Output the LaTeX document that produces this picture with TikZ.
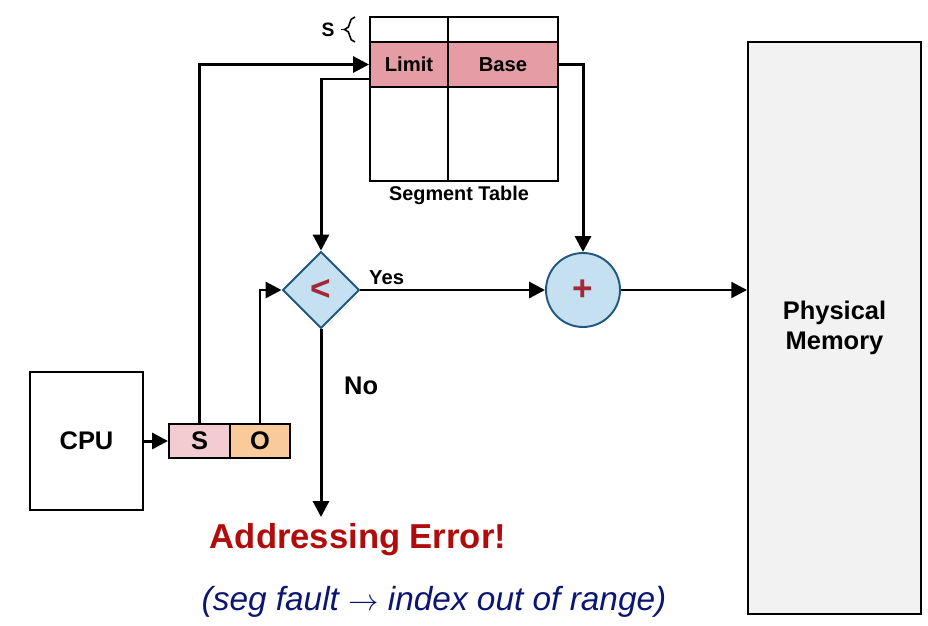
\documentclass[tikz,border=0pt]{standalone}
\usepackage{fontspec}
\setmainfont{Liberation Sans}
\usepackage{xcolor}
\usetikzlibrary{arrows.meta,positioning,shapes.geometric,decorations.pathreplacing,calc}
\definecolor{rowpink}{HTML}{E59CA4}
\definecolor{segpink}{HTML}{F2CCD1}
\definecolor{offorange}{HTML}{FACB9A}
\definecolor{opblue}{HTML}{C5E0F1}
\definecolor{opedge}{HTML}{21587D}
\definecolor{opred}{HTML}{A52838}
\definecolor{memgray}{HTML}{F2F2F2}
\definecolor{errred}{HTML}{B00C0C}
\definecolor{inkblue}{HTML}{0B1672}
\tikzset{
  flow/.style={-{Triangle[length=9pt,width=9pt]}, line width=1.7pt, black},
  cell/.style={rectangle, draw, line width=1.1pt, inner sep=0pt, font=\bfseries\fontsize{11.5}{13}\selectfont},
  opnode/.style={draw=opedge, fill=opblue, line width=1.1pt, inner sep=0pt, text=opred, font=\bfseries\fontsize{20}{22}\selectfont},
}
\begin{document}
\begin{tikzpicture}[x=0.02cm, y=-0.02cm]
\useasboundingbox (0,0) rectangle (928,625);
% segment table
\node[cell, minimum width=1.56cm, minimum height=0.5cm] (topL) at (409,29.5) {};
\node[cell, minimum width=2.2cm, minimum height=0.5cm] (topB) at (503,29.5) {};
\node[cell, fill=rowpink, minimum width=1.56cm, minimum height=0.9cm] (limit) at (409,64.5) {Limit};
\node[cell, fill=rowpink, minimum width=2.2cm, minimum height=0.9cm] (base) at (503,64.5) {Base};
\node[cell, minimum width=1.56cm, minimum height=1.88cm] (bodyL) at (409,134) {};
\node[cell, minimum width=2.2cm, minimum height=1.88cm] (bodyB) at (503,134) {};
\node[font=\bfseries\fontsize{11.3}{13}\selectfont] (tlabel) at (459,195) {Segment Table};
\draw[line width=0.9pt, decorate, decoration={brace, amplitude=6pt}] (355,42) -- (355,17);
\node[font=\bfseries\fontsize{11}{13}\selectfont] (sidx) at (328,29.5) {S};
\draw[line width=0.9pt] (sidx.east) -- (344,29.5);
% cpu and address
\node[cell, minimum width=2.26cm, minimum height=2.76cm, font=\bfseries\fontsize{14.5}{16}\selectfont] (cpu) at (86.5,441) {CPU};
\node[cell, fill=segpink, minimum width=1.22cm, minimum height=0.68cm, font=\bfseries\fontsize{14.5}{16}\selectfont] (sbox) at (199.5,441) {S};
\node[cell, fill=offorange, minimum width=1.2cm, minimum height=0.68cm, font=\bfseries\fontsize{14.5}{16}\selectfont] (obox) at (260,441) {O};
% check and add
\node[opnode, diamond, minimum width=1.54cm, minimum height=1.54cm] (cmp) at (321,290) {<};
\node[opnode, circle, minimum size=1.48cm] (add) at (583,290) {+};
% memory
\node[cell, fill=memgray, minimum width=3.46cm, minimum height=11.44cm, font=\bfseries\fontsize{14.5}{17}\selectfont, align=center] (mem) at (834.5,328) {\raisebox{-3pt}{}Physical\\Memory};
\node[text=errred, font=\bfseries\fontsize{19.7}{22}\selectfont] (err) at (358,540) {Addressing Error!};
\node[text=inkblue, font=\itshape\fontsize{19}{21}\selectfont] (note) at (434,602) {(seg fault $\rightarrow$ index out of range)};
\coordinate (errtip) at (321,517);
% connectors
\draw[flow] (cpu) -- (sbox);
\draw[flow] (sbox.north) |- (limit.west);
\draw[flow] ([yshift=-0.29cm]limit.west) -| (cmp.north);
\draw[flow] (base.east) -| (add.north);
\draw[flow] (obox.north) |- (cmp.west);
\draw[flow] (cmp.east) -- node[pos=0.02, above right, font=\bfseries\fontsize{11.5}{13}\selectfont, inner sep=2pt] {Yes} (add.west);
\draw[flow] (add.east) -- (add -| mem.west);
\draw[flow] (cmp.south) -- node[pos=0.3, right=9pt, font=\bfseries\fontsize{14.5}{16}\selectfont] {No} (errtip);
\end{tikzpicture}
\end{document}
